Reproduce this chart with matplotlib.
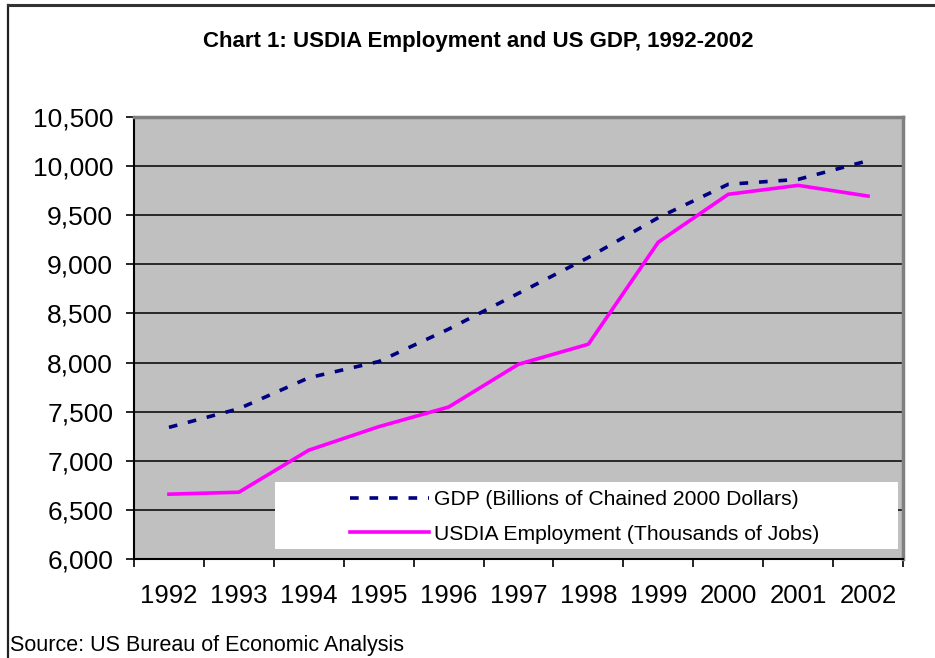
import matplotlib.pyplot as plt
import matplotlib.patches as mpatches
from matplotlib.lines import Line2D
from matplotlib.ticker import FuncFormatter, FixedLocator

plt.rcParams['font.family'] = ['Liberation Sans', 'DejaVu Sans']

# données
years = ['1992', '1993', '1994', '1995', '1996', '1997',
         '1998', '1999', '2000', '2001', '2002']
gdp = [7340, 7530, 7845, 8010, 8340, 8705, 9070, 9475, 9815, 9865, 10055]
emploi = [6660, 6680, 7108, 7347, 7547, 7983, 8187, 9226, 9713, 9804, 9695]
gdp_label = 'GDP (Billions of Chained 2000 Dollars)'
emploi_label = 'USDIA Employment (Thousands of Jobs)'

W, H = 935, 658
fig = plt.figure(figsize=(W / 100, H / 100), dpi=100)
ax = fig.add_axes([134 / W, 1 - 559 / H, (903 - 134) / W, (559 - 117) / H])
ax.set_facecolor('#C0C0C0')

x = [i + 0.5 for i in range(len(years))]
ax.plot(x, gdp, color='#000080', lw=2.6, dashes=(2.4, 3.0), label=gdp_label)
ax.plot(x, emploi, color='#FF00FF', lw=2.6, label=emploi_label)

ax.set_xlim(0, len(years))
ax.set_ylim(6000, 10500)
ax.set_yticks(range(6000, 10501, 500))
ax.yaxis.set_major_formatter(FuncFormatter(lambda v, p: f'{int(v):,}'))
for yv in range(6500, 10500, 500):
    ax.axhline(yv, color='black', lw=1.1, zorder=0.5)

ax.xaxis.set_major_locator(FixedLocator(range(len(years) + 1)))
ax.xaxis.set_minor_locator(FixedLocator(x))
ax.set_xticklabels([], minor=False)
ax.set_xticklabels(years, minor=True)
ax.tick_params(axis='x', which='major', length=6, width=1.2, direction='out')
ax.tick_params(axis='x', which='minor', length=0, pad=18, labelsize=18.5)
ax.tick_params(axis='y', length=6, width=1.2, direction='out', pad=9, labelsize=19)

for s in ['left', 'bottom']:
    ax.spines[s].set_color('black')
    ax.spines[s].set_linewidth(1.5)
for s in ['top', 'right']:
    ax.spines[s].set_color('#808080')
    ax.spines[s].set_linewidth(2.5)

# cadre blanc de la légende
ax.add_patch(mpatches.Rectangle((275 / W, 1 - 549 / H), (898 - 275) / W, (549 - 482) / H,
                                transform=fig.transFigure, facecolor='white',
                                edgecolor='none', zorder=3))
leg = ax.legend(loc='upper left', bbox_to_anchor=(350 / W, 1 - 490 / H),
                bbox_transform=fig.transFigure, frameon=False, fontsize=15.2,
                borderpad=0, borderaxespad=0, handlelength=3.75, handletextpad=0.25,
                labelspacing=0.75)
leg.set_zorder(4)

fig.text(478 / W, 1 - 42 / H, 'Chart 1: USDIA Employment and US GDP, 1992-2002',
         ha='center', va='center', fontsize=16, fontweight='bold')
fig.text(10 / W, 1 - 645 / H, 'Source: US Bureau of Economic Analysis',
         ha='left', va='center', fontsize=15.5)

# bordure du graphique
fig.lines.append(Line2D([8 / W, 8 / W], [0, 1 - 5 / H], transform=fig.transFigure,
                        color='#222222', lw=1.6))
fig.lines.append(Line2D([8 / W, 1], [1 - 5 / H, 1 - 5 / H], transform=fig.transFigure,
                        color='#333333', lw=2.2))

fig.savefig('out.png', dpi=100)
